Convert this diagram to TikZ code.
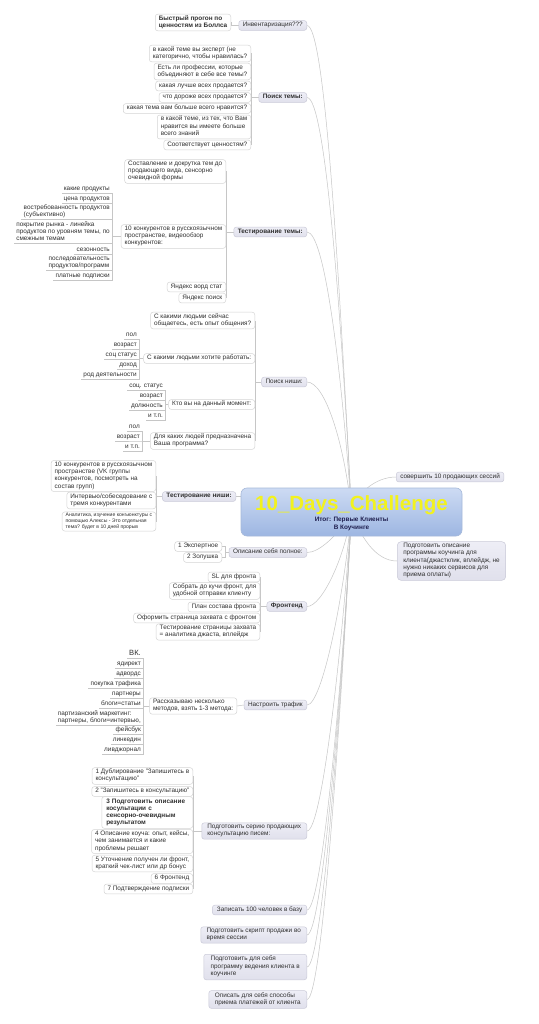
\documentclass[tikz,border=0pt]{standalone}
\usepackage{fontspec}
\setmainfont{Liberation Sans}
\usetikzlibrary{backgrounds}
\definecolor{txt}{HTML}{303030}
\definecolor{mainA}{HTML}{EEEEF6}
\definecolor{mainB}{HTML}{E0E0EC}
\definecolor{mainline}{HTML}{CACAD8}
\definecolor{subline}{HTML}{D4D4D4}
\definecolor{conline}{HTML}{C6C6C6}
\definecolor{roottop}{HTML}{CDDBF3}
\definecolor{rootbot}{HTML}{9DB6E2}
\definecolor{rootline}{HTML}{A6B9DA}
\definecolor{titley}{HTML}{F2F21E}
\definecolor{navy}{HTML}{1E1E4E}
\newcommand\fs{\fontsize{6.4}{7.3}\selectfont}
\newcommand\fss{\fontsize{5.1}{5.7}\selectfont}
\newcommand\fsv{\fontsize{7.6}{8.4}\selectfont}
\begin{document}
\begin{tikzpicture}[x=1pt,y=1pt,
 every node/.style={font=\fs,text=txt,align=left,execute at begin node=\strut,execute at end node=\strut},
 main/.style={draw=mainline,top color=mainA,bottom color=mainB,rounded corners=2.5pt,inner xsep=4pt,inner ysep=1.2pt,line width=0.5pt,anchor=east},
 mainb/.style={main,font=\fs\bfseries},
 sub/.style={draw=subline,fill=white,rounded corners=2.5pt,inner xsep=3.5pt,inner ysep=1.2pt,line width=0.5pt,anchor=east},
 leaf/.style={inner xsep=2pt,inner ysep=0pt,anchor=south east},
 conn/.style={draw=conline,line width=0.5pt},
 ]
\useasboundingbox (0,0) rectangle (538,-1024);

% root
\node[draw=rootline,top color=roottop,bottom color=rootbot,rounded corners=6pt,minimum width=221pt,minimum height=48pt,inner sep=0pt,line width=0.6pt] (root) at (351.5,-512) {};
\node[anchor=base,font=\fontsize{20.5}{22}\selectfont\bfseries,text=titley,inner sep=0pt] (title) at (351.5,-510.5) {10\_Days\_Challenge};
\node[font=\fs\bfseries,text=navy,align=center,inner sep=0pt] (subt) at (351.5,-524.3) {Итог: Первые Клиенты\\В Коучинге};

% main topics
\node[main] (m1) at (307,-25.5) {Инвентаризация???};
\node[mainb] (m2) at (307,-97.5) {Поиск темы:};
\node[mainb] (m3) at (307,-232) {Тестирование темы:};
\node[main] (m4) at (307,-382) {Поиск ниши:};
\node[mainb] (m5) at (236,-496.5) {Тестирование ниши:};
\node[main] (m6) at (307,-552.5) {Описание себя полное:};
\node[mainb] (m7) at (307,-606.5) {Фронтенд};
\node[main] (m8) at (307,-705) {Настроить трафик};
\node[main,inner xsep=5pt,minimum width=105pt] (m9) at (307,-831) {Подготовить серию продающих\\консультацию писем:};
\node[main,inner xsep=4.5pt] (m10) at (307,-910) {Записать 100 человек в базу};
\node[main,inner xsep=5pt,minimum width=106pt] (m11) at (307,-935) {Подготовить скрипт продажи во\\время сессии};
\node[main,inner xsep=6pt,minimum width=103pt,inner ysep=2pt] (m12) at (307,-967) {Подготовить для себя\\программу ведения клиента в\\коучинге};
\node[main,inner xsep=6pt,inner ysep=1.8pt] (m13) at (307,-999.5) {Описать для себя способы\\приема платежей от клиента};
\node[main,anchor=west] (r1) at (396,-477) {совершить 10 продающих сессий};
\node[main,anchor=west,inner xsep=6pt,rounded corners=4pt,inner ysep=1.5pt] (r2) at (397,-561) {Подготовить описание\\программы коучинга для\\клиента(джастклик, вплейдж, не\\нужно никаких сервисов для\\приема оплаты)};

% m1
\node[sub,font=\fs\bfseries] (s1) at (231,-22.5) {Быстрый прогон по\\ценностям из Боллса};

% m2
\node[sub] (s2a) at (251,-53.5) {в какой теме вы эксперт (не\\категорично, чтобы нравилась?};
\node[sub] (s2b) at (251,-71.5) {Есть ли профессии, которые\\объединяют в себе все темы?};
\node[sub] (s2c) at (251,-86) {какая лучше всех продается?};
\node[sub] (s2d) at (251,-97.5) {что дороже всех продается?};
\node[sub] (s2e) at (251,-108.5) {какая тема вам больше всего нравится?};
\node[sub] (s2f) at (251,-127) {в какой теме, из тех, что Вам\\нравится вы имеете больше\\всего знаний};
\node[sub] (s2g) at (251,-145) {Соответствует ценностям?};

% m3
\node[sub] (s3a) at (226,-171.5) {Составление и докрутка тем до\\продающего вида, сенсорно\\очевидной формы};
\node[sub] (s3b) at (226,-236.5) {10 конкурентов в русскоязычном\\пространстве, видеообзор\\конкурентов:};
\node[sub] (s3c) at (226,-287) {Яндекс ворд стат};
\node[sub] (s3d) at (226,-298) {Яндекс поиск};
\node[leaf] (l3a) at (112,-193) {какие продукты};
\node[leaf] (l3b) at (112,-203) {цена продуктов};
\node[leaf] (l3c) at (112,-219) {востребованность продуктов\\(субъективно)};
\node[leaf] (l3d) at (112,-243) {покрытие рынка - линейка\\продуктов по уровням темы, по\\смежным темам};
\node[leaf] (l3e) at (112,-254) {сезонность};
\node[leaf] (l3f) at (112,-270) {последовательность\\продуктов/программ};
\node[leaf] (l3g) at (112,-280) {платные подписки};

% m4
\node[sub] (s4a) at (255,-320.5) {С какими людьми сейчас\\общаетесь, есть опыт общения?};
\node[sub] (s4b) at (255,-358.5) {С какими людьми хотите работать:};
\node[sub] (s4c) at (255,-404.5) {Кто вы на данный момент:};
\node[sub] (s4d) at (255,-441) {Для каких людей предназначена\\Ваша программа?};
\node[leaf] (l4a) at (139,-339) {пол};
\node[leaf] (l4b) at (139,-349) {возраст};
\node[leaf] (l4c) at (139,-359) {соц статус};
\node[leaf] (l4d) at (139,-369) {доход};
\node[leaf] (l4e) at (139,-379) {род деятельности};
\node[leaf] (l4f) at (165,-390) {соц. статус};
\node[leaf] (l4g) at (165,-400) {возраст};
\node[leaf] (l4h) at (165,-410) {должность};
\node[leaf] (l4i) at (165,-420) {и т.п.};
\node[leaf] (l4j) at (142,-431) {пол};
\node[leaf] (l4k) at (142,-441) {возраст};
\node[leaf] (l4l) at (142,-451) {и т.п.};

% m5
\node[sub] (s5a) at (156,-476) {10 конкурентов в русскоязычном\\пространстве (VK группы\\конкурентов, посмотреть на\\состав групп)};
\node[sub] (s5b) at (156,-500.5) {Интервью/собеседование с\\тремя конкурентами};
\node[sub,font=\fss] (s5c) at (156,-521.5) {Аналитика, изучение конъюнктуры с\\помощью Алексы - Это отдельная\\тема? будет в 10 дней прорыв};

% m6
\node[sub] (s6a) at (222,-546.5) {1 Экспертное};
\node[sub] (s6b) at (222,-557.5) {2 Золушка};

% m7
\node[sub] (s7a) at (260,-577) {SL для фронта};
\node[sub] (s7b) at (260,-591) {Собрать до кучи фронт, для\\удобной отправки клиенту};
\node[sub] (s7c) at (260,-607) {План состава фронта};
\node[sub] (s7d) at (260,-618) {Оформить страница захвата с фронтом};
\node[sub] (s7e) at (260,-632) {Тестирование страницы захвата\\= аналитика джаста, вплейдж};

% m8
\node[sub] (s8) at (237,-706) {Рассказываю несколько\\методов, взять 1-3 метода:};
\node[leaf,font=\fsv] (l8a) at (143,-658) {ВК.};
\node[leaf] (l8b) at (143,-668) {ядирект};
\node[leaf] (l8c) at (143,-678) {адвордс};
\node[leaf] (l8d) at (143,-688) {покупка трафика};
\node[leaf] (l8e) at (143,-698) {партнеры};
\node[leaf] (l8f) at (143,-708) {блоги=статьи};
\node[leaf] (l8g) at (143,-725) {партизанский маркетинг:\\партнеры, блоги=интервью,};
\node[leaf] (l8h) at (143,-734) {фейсбук};
\node[leaf] (l8i) at (143,-744) {линкедин};
\node[leaf] (l8j) at (143,-754) {ливджорнал};

% m9
\node[sub] (s9a) at (193,-776) {1 Дублирование "Запишитесь в\\консультацию"};
\node[sub] (s9b) at (193,-791.5) {2 "Запишитесь в консультацию"};
\node[sub,font=\fs\bfseries,text width=82pt,inner xsep=4.5pt] (s9c) at (193,-812.5) {3 Подготовить описание\\косультации с\\сенсорно-очевидным\\результатом};
\node[sub] (s9d) at (193,-841.5) {4 Описание коуча: опыт, кейсы,\\чем занимается и какие\\проблемы решает};
\node[sub] (s9e) at (193,-863.5) {5 Уточнение получен ли фронт,\\краткий чек-лист или др бонус};
\node[sub] (s9f) at (193,-878.5) {6 Фронтенд};
\node[sub] (s9g) at (193,-889) {7 Подтверждение подписки};

\begin{scope}[on background layer]
\fill[white] (0,0) rectangle (538,-1024);
\draw[conn] (m1.east) to[out=0,in=93,out distance=18pt,in distance=240pt] (root.center);
\draw[conn] (m2.east) to[out=0,in=93,out distance=18pt,in distance=210pt] (root.center);
\draw[conn] (m3.east) to[out=0,in=94,out distance=18pt,in distance=140pt] (root.center);
\draw[conn] (m4.east) to[out=0,in=96,out distance=18pt,in distance=70pt] (root.center);
\draw[conn] (m5.east) -- (m5.east -| root.west);
\draw[conn] (m6.east) to[out=0,in=-120,out distance=12pt,in distance=28pt] (root.center);
\draw[conn] (m7.east) to[out=0,in=-98,out distance=15pt,in distance=45pt] (root.center);
\draw[conn] (m8.east) to[out=0,in=-95,out distance=15pt,in distance=85pt] (root.center);
\draw[conn] (m9.east) to[out=0,in=-94,out distance=15pt,in distance=140pt] (root.center);
\draw[conn] (m10.east) to[out=0,in=-93,out distance=15pt,in distance=170pt] (root.center);
\draw[conn] (m11.east) to[out=0,in=-93,out distance=15pt,in distance=180pt] (root.center);
\draw[conn] (m12.east) to[out=0,in=-93,out distance=15pt,in distance=195pt] (root.center);
\draw[conn] (m13.east) to[out=0,in=-93,out distance=15pt,in distance=210pt] (root.center);
\draw[conn] (root.center) to[out=75,in=180,out distance=20pt,in distance=20pt] (r1.west);
\draw[conn] (root.center) to[out=-70,in=180,out distance=25pt,in distance=22pt] (r2.west);
\draw[conn] (m1.west) -- (m1.west -| s1.east) |- (s1.east);
\foreach \n in {s2a,s2b,s2c,s2d,s2e,s2f,s2g} \draw[conn] (m2.west) -- (m2.west -| s2a.east) |- (\n.east);
\foreach \n in {s3a,s3b,s3c,s3d} \draw[conn] (m3.west) -- (m3.west -| s3a.east) |- (\n.east);
\foreach \n in {l3a,l3b,l3c,l3d,l3e,l3f,l3g} \draw[conn] (s3b.west) -- (s3b.west -| l3a.south east) |- (\n.south east) -- (\n.south west);
\foreach \n in {s4a,s4b,s4c,s4d} \draw[conn] (m4.west) -- (m4.west -| s4a.east) |- (\n.east);
\foreach \n in {l4a,l4b,l4c,l4d,l4e} \draw[conn] (s4b.west) -- (s4b.west -| l4a.south east) |- (\n.south east) -- (\n.south west);
\foreach \n in {l4f,l4g,l4h,l4i} \draw[conn] (s4c.west) -- (s4c.west -| l4f.south east) |- (\n.south east) -- (\n.south west);
\foreach \n in {l4j,l4k,l4l} \draw[conn] (s4d.west) -- (s4d.west -| l4j.south east) |- (\n.south east) -- (\n.south west);
\foreach \n in {s5a,s5b,s5c} \draw[conn] (m5.west) -- (m5.west -| s5a.east) |- (\n.east);
\foreach \n in {s6a,s6b} \draw[conn] (m6.west) -- ++(-4,0) |- (\n.east);
\foreach \n in {s7a,s7b,s7c,s7d,s7e} \draw[conn] (m7.west) -- (m7.west -| s7a.east) |- (\n.east);
\draw[conn] (m8.west) -- (s8.east);
\foreach \n in {l8a,l8b,l8c,l8d,l8e,l8f,l8g,l8h,l8i,l8j} \draw[conn] (s8.west) -- (s8.west -| l8a.south east) |- (\n.south east) -- (\n.south west);
\foreach \n in {s9a,s9b,s9c,s9d,s9e,s9f,s9g} \draw[conn] (m9.west) -- (m9.west -| s9a.east) |- (\n.east);
\end{scope}
\end{tikzpicture}
\end{document}
